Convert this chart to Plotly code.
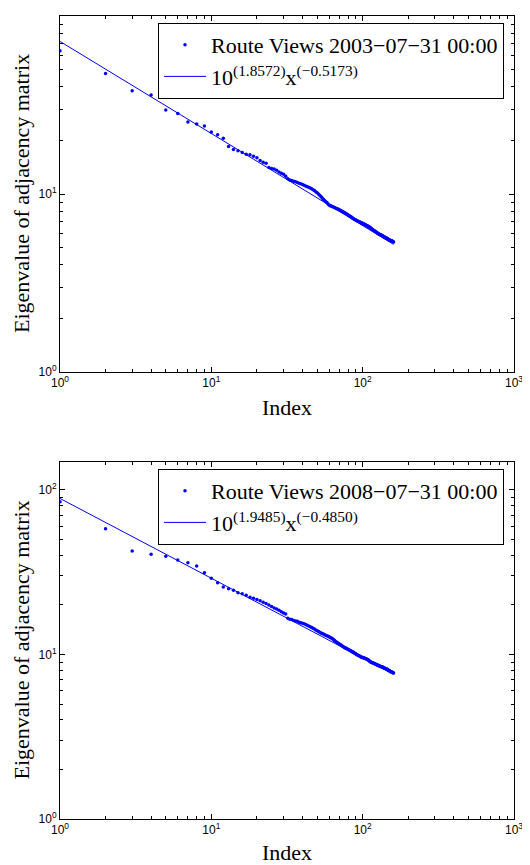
import plotly.graph_objects as go

# ---------------- data ----------------
eig_2003 = [
    63.8, 47.6, 38.0, 36.0, 29.6, 28.3, 25.4, 24.7, 24.1, 22.3,
    21.5, 20.6, 18.5, 17.8, 17.5, 17.1, 16.7, 16.6, 16.3, 16.0,
    15.4, 15.1, 14.9, 14.1, 13.9, 13.8, 13.6, 13.3, 13.1, 12.9,
    12.6, 12.2, 12.0, 11.9, 11.8, 11.7, 11.6, 11.5, 11.4, 11.3,
    11.2, 11.1, 11.0, 10.9, 10.8, 10.7, 10.55, 10.45, 10.3, 10.15,
    10.0, 9.85, 9.67, 9.5, 9.35, 9.2, 9.06, 8.95, 8.8, 8.67,
    8.6, 8.55, 8.5, 8.45, 8.4, 8.35, 8.3, 8.25, 8.2, 8.15,
    8.1, 8.05, 8.0, 7.95, 7.9, 7.85, 7.8, 7.75, 7.7, 7.62,
    7.57, 7.52, 7.47, 7.42, 7.37, 7.3, 7.26, 7.22, 7.18, 7.14,
    7.1, 7.07, 7.04, 7.01, 6.98, 6.95, 6.92, 6.89, 6.86, 6.84,
    6.81, 6.78, 6.75, 6.72, 6.69, 6.66, 6.63, 6.6, 6.57, 6.54,
    6.51, 6.48, 6.45, 6.4, 6.36, 6.32, 6.28, 6.25, 6.22, 6.19,
    6.16, 6.13, 6.1, 6.07, 6.04, 6.01, 5.98, 5.96, 5.94, 5.92,
    5.9, 5.88, 5.86, 5.84, 5.82, 5.8, 5.78, 5.76, 5.74, 5.72,
    5.7, 5.68, 5.66, 5.64, 5.62, 5.6, 5.58, 5.56, 5.54, 5.52,
    5.5, 5.49, 5.48, 5.47, 5.46, 5.45, 5.43, 5.41, 5.39, 5.37,
]
eig_2008 = [
    84.9, 58.2, 42.6, 40.6, 39.5, 37.5, 36.1, 34.5, 31.4, 29.1,
    27.3, 25.7, 25.1, 24.6, 23.7, 23.4, 22.9, 22.3, 22.0, 21.6,
    21.2, 20.8, 20.4, 20.0, 19.6, 19.2, 18.9, 18.6, 18.2, 17.9,
    17.6, 16.6, 16.4, 16.3, 16.1, 16.0, 15.9, 15.7, 15.6, 15.5,
    15.35, 15.2, 15.05, 14.9, 14.75, 14.6, 14.45, 14.3, 14.1, 13.95,
    13.8, 13.65, 13.5, 13.4, 13.3, 13.2, 13.1, 13.0, 12.9, 12.8,
    12.7, 12.6, 12.5, 12.35, 12.2, 12.05, 11.9, 11.8, 11.7, 11.6,
    11.5, 11.4, 11.3, 11.2, 11.1, 11.0, 10.95, 10.9, 10.8, 10.75,
    10.7, 10.6, 10.55, 10.5, 10.4, 10.35, 10.3, 10.2, 10.15, 10.1,
    10.0, 9.95, 9.9, 9.85, 9.8, 9.75, 9.7, 9.65, 9.6, 9.57,
    9.54, 9.51, 9.48, 9.46, 9.43, 9.4, 9.35, 9.3, 9.25, 9.2,
    9.1, 9.05, 9.0, 8.96, 8.93, 8.9, 8.87, 8.84, 8.81, 8.78,
    8.75, 8.72, 8.69, 8.66, 8.63, 8.6, 8.57, 8.54, 8.51, 8.48,
    8.46, 8.44, 8.42, 8.4, 8.38, 8.35, 8.32, 8.29, 8.26, 8.24,
    8.22, 8.2, 8.18, 8.15, 8.12, 8.09, 8.06, 8.03, 8.0, 7.97,
    7.94, 7.91, 7.88, 7.85, 7.83, 7.81, 7.79, 7.77, 7.75, 7.73,
]
index_2003 = list(range(1, len(eig_2003) + 1))
index_2008 = list(range(1, len(eig_2008) + 1))

fit_2003 = (1.8572, -0.5173)   # log10 intercept, slope
fit_2008 = (1.9485, -0.4850)

label_2003 = "Route Views 2003\u221207\u221231 00:00"
label_2008 = "Route Views 2008\u221207\u221231 00:00"
fit_label_2003 = "10<sup>(1.8572)</sup>x<sup>(\u22120.5173)</sup>"
fit_label_2008 = "10<sup>(1.9485)</sup>x<sup>(\u22120.4850)</sup>"
x_title = "Index"
y_title = "Eigenvalue of adjacency matrix"

major_vals = [1, 10, 100, 1000]
major_text = ["10<sup>0</sup>", "10<sup>1</sup>", "10<sup>2</sup>", "10<sup>3</sup>"]
minor_vals = [m * 10 ** e for e in range(0, 3) for m in range(2, 10)]

BLUE = "#0000ff"
SERIF = "Liberation Serif, Times New Roman, serif"
SANS = "Liberation Sans, Arial, sans-serif"


def fit_line(xs, fit):
    a, b = fit
    ends = [xs[0], xs[-1]]
    return ends, [10 ** a * x ** b for x in ends]


fig = go.Figure()

fx, fy = fit_line(index_2003, fit_2003)
fig.add_trace(go.Scatter(x=index_2003, y=eig_2003, mode="markers", name=label_2003,
                         marker=dict(color=BLUE, size=3.5), xaxis="x", yaxis="y", legend="legend"))
fig.add_trace(go.Scatter(x=fx, y=fy, mode="lines", name=fit_label_2003,
                         line=dict(color=BLUE, width=1), xaxis="x", yaxis="y", legend="legend"))

fx, fy = fit_line(index_2008, fit_2008)
fig.add_trace(go.Scatter(x=index_2008, y=eig_2008, mode="markers", name=label_2008,
                         marker=dict(color=BLUE, size=3.5), xaxis="x2", yaxis="y2", legend="legend2"))
fig.add_trace(go.Scatter(x=fx, y=fy, mode="lines", name=fit_label_2008,
                         line=dict(color=BLUE, width=1), xaxis="x2", yaxis="y2", legend="legend2"))

# page body has an 8px margin: the figure is drawn offset by (8, 8)
OFF = 8
W, H = 530 - OFF, 865 - OFF


def px_x(p):
    return (p - OFF) / W


def px_y(p):
    return (H - (p - OFF)) / H


xdom = [px_x(60), px_x(514)]
ydom_top = [px_y(372), px_y(16)]
ydom_bot = [px_y(819), px_y(462)]


def axis_common(rng, title=None, standoff=None):
    d = dict(
        type="log", range=rng, showgrid=False, zeroline=False,
        showline=True, linecolor="black", linewidth=1, mirror="ticks",
        ticks="inside", ticklen=5, tickwidth=1, tickcolor="black",
        tickmode="array", tickvals=major_vals, ticktext=major_text,
        tickfont=dict(family=SANS, size=12, color="black"),
        minor=dict(tickmode="array", tickvals=minor_vals, ticks="inside",
                   ticklen=3, tickwidth=1, tickcolor="black", showgrid=False),
        automargin=False,
    )
    if title:
        d["title"] = dict(text=title, font=dict(family=SERIF, size=22, color="black"), standoff=standoff)
    return d


legend_common = dict(xanchor="left", yanchor="top", bgcolor="white",
                     bordercolor="black", borderwidth=1, itemwidth=42,
                     font=dict(family=SERIF, size=22, color="black"), tracegroupgap=0)

ytitle_annots = [
    dict(text=y_title, xref="paper", yref="paper", x=px_x(21), y=sum(dom) / 2,
         xanchor="center", yanchor="middle", textangle=-90, showarrow=False,
         font=dict(family=SERIF, size=22, color="black"))
    for dom in (ydom_top, ydom_bot)
]

fig.update_layout(
    width=W, height=H, template="none",
    paper_bgcolor="white", plot_bgcolor="white",
    margin=dict(l=0, r=0, t=0, b=0),
    showlegend=True,
    xaxis=dict(axis_common([0, 3], x_title, 10), domain=xdom, anchor="y"),
    yaxis=dict(axis_common([0, 2]), domain=ydom_top, anchor="x"),
    xaxis2=dict(axis_common([0, 3], x_title, 10), domain=xdom, anchor="y2"),
    yaxis2=dict(axis_common([0, 2.17]), domain=ydom_bot, anchor="x2"),
    legend=dict(legend_common, x=px_x(158), y=px_y(23)),
    legend2=dict(legend_common, x=px_x(158), y=px_y(469)),
    annotations=ytitle_annots,
)

fig.write_html("out.html")
